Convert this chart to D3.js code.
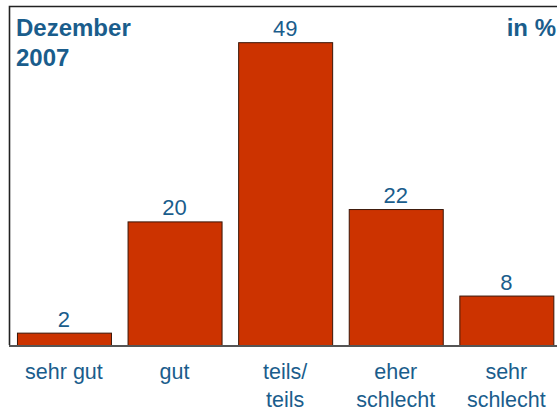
<!DOCTYPE html>
<html>
<head>
<meta charset="utf-8">
<script src="https://cdn.jsdelivr.net/npm/d3@7"></script>
<style>
  body { margin: 0; background: #fff; }
  text { font-family: "Liberation Sans", Arial, sans-serif; }
</style>
</head>
<body>
<div id="chart"></div>
<script>

const kategorien = [
    ["sehr gut"],
    ["gut"],
    ["teils/", "teils"],
    ["eher", "schlecht"],
    ["sehr", "schlecht"]
];

const werte = [2, 20, 49, 22, 8];

const titelZeilen = ["Dezember", "2007"];

const einheit = "in %";

function drawBarChart(){

    const width = 557;
    const height = 411;

    const textFarbe = "#1a5d8c";

    const svg =
        d3.select("#chart")
          .append("svg")
          .attr("width", width)
          .attr("height", height);

    const x =
        d3.scaleBand()
          .domain(d3.range(werte.length))
          .range([9, 561.3])
          .paddingInner(0.15)
          .paddingOuter(0.072);

    const y =
        d3.scaleLinear()
          .domain([0, 50])
          .range([345, 36]);

    // Rahmen links und oben
    svg.append("path")
       .attr("d", "M9.5,345 V6.5 H557")
       .attr("fill", "none")
       .attr("stroke", "#222")
       .attr("stroke-width", 1.6);

    svg.selectAll("rect.bar")
       .data(werte)
       .enter()
       .append("rect")
       .attr("class", "bar")
       .attr("x", (d, i) => x(i) + 0.5)
       .attr("y", d => y(d) + 0.5)
       .attr("width", x.bandwidth())
       .attr("height", d => y(0) - y(d))
       .attr("fill", "#cc3300")
       .attr("stroke", "#3a1608")
       .attr("stroke-width", 1);

    // Grundlinie
    svg.append("line")
       .attr("x1", 9)
       .attr("x2", width)
       .attr("y1", y(0) + 1)
       .attr("y2", y(0) + 1)
       .attr("stroke", "#555")
       .attr("stroke-width", 2);

    svg.selectAll("text.wert")
       .data(werte)
       .enter()
       .append("text")
       .attr("class", "wert")
       .attr("x", (d, i) => x(i) + x.bandwidth() / 2)
       .attr("y", d => y(d) - 6)
       .attr("text-anchor", "middle")
       .attr("font-size", 22)
       .attr("fill", textFarbe)
       .text(d => d);

    const kat =
        svg.selectAll("text.kat")
           .data(kategorien)
           .enter()
           .append("text")
           .attr("class", "kat")
           .attr("text-anchor", "middle")
           .attr("font-size", 21.5)
           .attr("fill", textFarbe);

    kat.selectAll("tspan")
       .data((d, i) => d.map(t => ({t: t, i: i})))
       .enter()
       .append("tspan")
       .attr("x", d => x(d.i) + x.bandwidth() / 2)
       .attr("y", (d, j) => 379 + j * 28)
       .text(d => d.t);

    svg.append("text")
       .attr("font-size", 24)
       .attr("font-weight", "bold")
       .attr("fill", textFarbe)
       .selectAll("tspan")
       .data(titelZeilen)
       .enter()
       .append("tspan")
       .attr("x", 16)
       .attr("y", (d, i) => 36 + i * 30)
       .text(d => d);

    svg.append("text")
       .attr("x", 556)
       .attr("y", 36)
       .attr("text-anchor", "end")
       .attr("font-size", 24)
       .attr("font-weight", "bold")
       .attr("fill", textFarbe)
       .text(einheit);

}

drawBarChart();

</script>
</body>
</html>
